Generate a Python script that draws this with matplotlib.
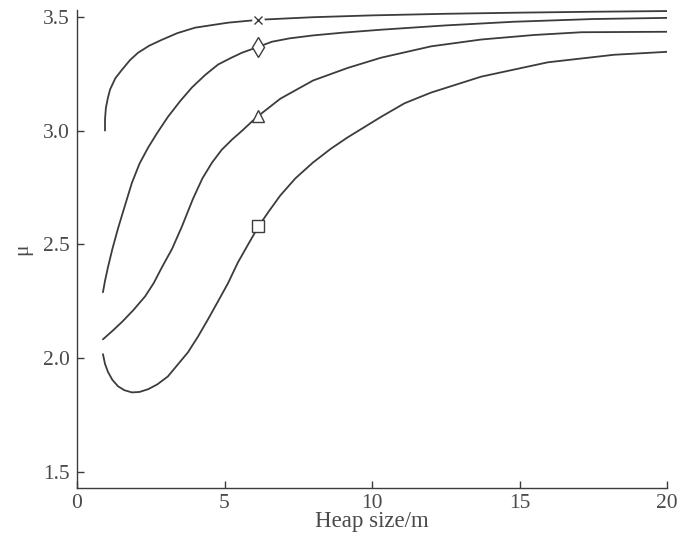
import matplotlib
matplotlib.use("Agg")
import matplotlib.pyplot as plt

plt.rcParams['font.family'] = ['Liberation Serif', 'DejaVu Serif']

# Curve data
x1 = [0.95, 0.95, 0.98, 1.05, 1.12, 1.3, 1.53, 1.8, 2.07, 2.45, 2.88, 3.4, 4.0, 5.12, 6.2, 8.0, 10.0, 12.5, 15.0, 17.5, 20.0]
y1 = [3.00, 3.05, 3.10, 3.145, 3.18, 3.23, 3.268, 3.31, 3.342, 3.373, 3.399, 3.428, 3.452, 3.474, 3.487, 3.498, 3.506, 3.513, 3.518, 3.522, 3.525]

x2 = [0.88, 0.95, 1.05, 1.2, 1.39, 1.6, 1.86, 2.12, 2.41, 2.72, 3.08, 3.5, 3.9, 4.35, 4.78, 5.2, 5.59, 6.15, 6.6, 7.2, 8.0, 9.0, 10.3, 12.5, 14.8, 17.5, 20.0]
y2 = [2.29, 2.34, 2.40, 2.48, 2.57, 2.66, 2.77, 2.855, 2.925, 2.99, 3.06, 3.13, 3.19, 3.245, 3.29, 3.318, 3.342, 3.368, 3.39, 3.405, 3.418, 3.43, 3.443, 3.462, 3.478, 3.49, 3.495]

x3 = [0.88, 1.2, 1.53, 1.9, 2.31, 2.6, 2.88, 3.22, 3.56, 3.93, 4.25, 4.58, 4.9, 5.25, 5.6, 5.93, 6.15, 6.89, 8.0, 9.17, 10.3, 12.0, 13.7, 15.5, 17.1, 20.0]
y3 = [2.083, 2.12, 2.16, 2.21, 2.272, 2.33, 2.40, 2.48, 2.58, 2.70, 2.79, 2.86, 2.915, 2.96, 3.0, 3.04, 3.065, 3.14, 3.22, 3.275, 3.32, 3.37, 3.40, 3.42, 3.432, 3.434]

x4 = [0.88, 0.95, 1.05, 1.2, 1.39, 1.6, 1.86, 2.12, 2.41, 2.72, 3.08, 3.4, 3.76, 4.1, 4.44, 4.78, 5.12, 5.45, 5.8, 6.15, 6.5, 6.89, 7.4, 8.0, 8.6, 9.17, 10.3, 11.1, 12.0, 13.7, 15.96, 18.2, 20.0]
y4 = [2.018, 1.975, 1.94, 1.905, 1.877, 1.86, 1.85, 1.852, 1.864, 1.885, 1.92, 1.97, 2.026, 2.095, 2.171, 2.25, 2.33, 2.42, 2.50, 2.579, 2.645, 2.715, 2.79, 2.86, 2.92, 2.97, 3.06, 3.12, 3.167, 3.237, 3.30, 3.333, 3.346]

marker_x = 6.15
marker_y = [3.485, 3.368, 3.065, 2.579]
marker_styles = ['x', 'd', '^', 's']
marker_sizes = [6, 10, 8, 9]

xticks = [0, 5, 10, 15, 20]
yticks = [1.5, 2.0, 2.5, 3.0, 3.5]

line_color = '#3c3c3c'
text_color = '#4a4a4a'

fig = plt.figure(figsize=(6.96, 5.36), dpi=100)
ax = fig.add_axes([0.1106, 0.0895, 0.848, 0.892])

for xs, ys in [(x1, y1), (x2, y2), (x3, y3), (x4, y4)]:
    ax.plot(xs, ys, color=line_color, lw=1.3, zorder=2,
            solid_joinstyle='round', solid_capstyle='round')

for my, ms, sz in zip(marker_y, marker_styles, marker_sizes):
    if ms == 'x':
        ax.plot([marker_x], [my], marker='o', ms=sz + 2, mfc='white', mec='white', zorder=3)
        ax.plot([marker_x], [my], marker='x', ms=sz, mec=line_color, mew=1.0, zorder=4)
    else:
        ax.plot([marker_x], [my], marker=ms, ms=sz, mfc='white', mec=line_color, mew=1.0, zorder=4)

ax.set_xlim(0, 20)
ax.set_ylim(1.43, 3.53)
ax.set_xticks(xticks)
ax.set_yticks(yticks)
ax.set_xticklabels([str(v) for v in xticks])
ax.set_yticklabels([f"{v:.1f}" for v in yticks])

for s in ['top', 'right']:
    ax.spines[s].set_visible(False)
for s in ['left', 'bottom']:
    ax.spines[s].set_color(line_color)
    ax.spines[s].set_linewidth(1.0)

ax.tick_params(direction='in', length=5, width=1.0, color=line_color,
               labelsize=15.5, labelcolor=text_color)
ax.tick_params(axis='y', pad=5)
ax.tick_params(axis='x', pad=4)

ax.set_xlabel('Heap size/m', fontsize=16.5, color=text_color, labelpad=-1)
ax.set_ylabel('μ', fontsize=15.5, color=text_color, labelpad=8)

fig.savefig('out.png', dpi=100)
